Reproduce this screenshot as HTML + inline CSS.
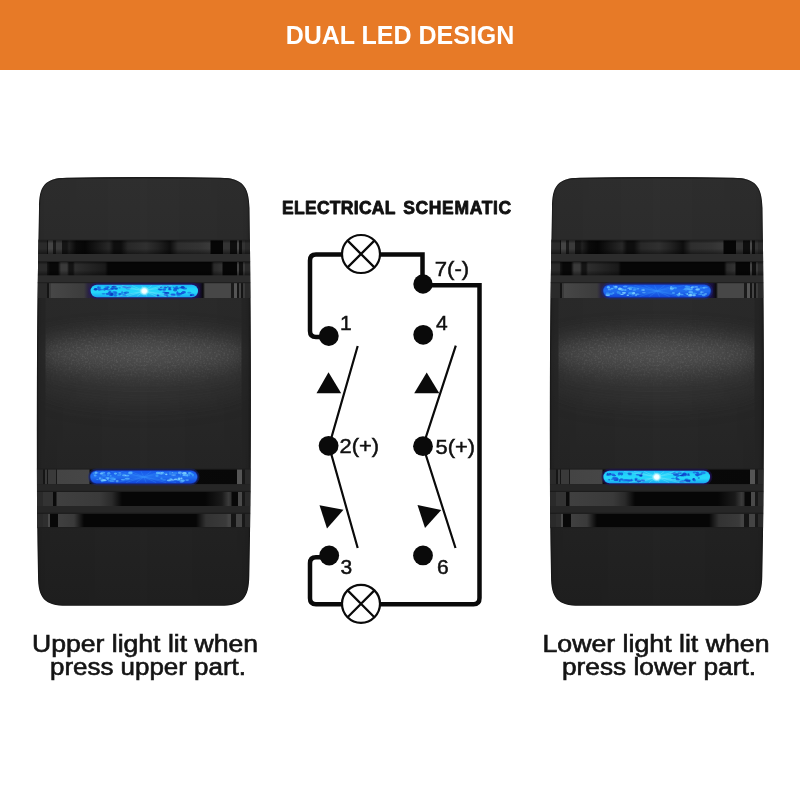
<!DOCTYPE html>
<html><head><meta charset="utf-8">
<style>
html,body{margin:0;padding:0;background:#fff;width:800px;height:800px;overflow:hidden}
svg{display:block;will-change:transform}
text{font-family:"Liberation Sans",sans-serif}
</style></head>
<body>
<svg width="800" height="800" viewBox="0 0 800 800">
<defs>
<linearGradient id="slotA" x1="0" y1="0" x2="214" y2="0" gradientUnits="userSpaceOnUse"><stop offset="0.0164" stop-color="#2a2a2a"/><stop offset="0.0467" stop-color="#2a2a2a"/><stop offset="0.0491" stop-color="#121212"/><stop offset="0.0537" stop-color="#121212"/><stop offset="0.0561" stop-color="#444"/><stop offset="0.0748" stop-color="#444"/><stop offset="0.0771" stop-color="#1a1a1a"/><stop offset="0.0888" stop-color="#1a1a1a"/><stop offset="0.0911" stop-color="#3a3a3a"/><stop offset="0.1168" stop-color="#3a3a3a"/><stop offset="0.1192" stop-color="#141414"/><stop offset="0.1425" stop-color="#141414"/><stop offset="0.1519" stop-color="#222"/><stop offset="0.1846" stop-color="#0a0a0a"/><stop offset="0.2266" stop-color="#060606"/><stop offset="0.3388" stop-color="#282828"/><stop offset="0.3621" stop-color="#0e0e0e"/><stop offset="0.3949" stop-color="#0e0e0e"/><stop offset="0.4276" stop-color="#282828"/><stop offset="0.5117" stop-color="#303030"/><stop offset="0.5678" stop-color="#222"/><stop offset="0.6238" stop-color="#0e0e0e"/><stop offset="0.6612" stop-color="#2e2e2e"/><stop offset="0.7593" stop-color="#333"/><stop offset="0.8107" stop-color="#3a3a3a"/><stop offset="0.8154" stop-color="#060606"/><stop offset="0.8692" stop-color="#060606"/><stop offset="0.8715" stop-color="#333"/><stop offset="0.9019" stop-color="#333"/><stop offset="0.9042" stop-color="#0e0e0e"/><stop offset="0.9346" stop-color="#0e0e0e"/><stop offset="0.9369" stop-color="#4a4a4a"/><stop offset="0.9463" stop-color="#4a4a4a"/><stop offset="0.9486" stop-color="#101010"/><stop offset="0.9603" stop-color="#101010"/><stop offset="0.9626" stop-color="#333"/><stop offset="0.9743" stop-color="#333"/><stop offset="0.9766" stop-color="#2a2a2a"/><stop offset="0.9977" stop-color="#2a2a2a"/></linearGradient><linearGradient id="slotB" x1="0" y1="0" x2="214" y2="0" gradientUnits="userSpaceOnUse"><stop offset="0.0164" stop-color="#2a2a2a"/><stop offset="0.0467" stop-color="#2a2a2a"/><stop offset="0.0491" stop-color="#181818"/><stop offset="0.0631" stop-color="#080808"/><stop offset="0.1005" stop-color="#080808"/><stop offset="0.1145" stop-color="#3a3a3a"/><stop offset="0.1425" stop-color="#3a3a3a"/><stop offset="0.1519" stop-color="#141414"/><stop offset="0.1706" stop-color="#141414"/><stop offset="0.1799" stop-color="#2e2e2e"/><stop offset="0.3201" stop-color="#1a1a1a"/><stop offset="0.3341" stop-color="#060606"/><stop offset="0.8154" stop-color="#060606"/><stop offset="0.8294" stop-color="#2a2a2a"/><stop offset="0.8668" stop-color="#333"/><stop offset="0.8715" stop-color="#060606"/><stop offset="0.9346" stop-color="#060606"/><stop offset="0.9369" stop-color="#444"/><stop offset="0.9463" stop-color="#444"/><stop offset="0.9486" stop-color="#101010"/><stop offset="0.9626" stop-color="#101010"/><stop offset="0.9650" stop-color="#3a3a3a"/><stop offset="0.9743" stop-color="#3a3a3a"/><stop offset="0.9766" stop-color="#2a2a2a"/><stop offset="0.9977" stop-color="#2a2a2a"/></linearGradient><linearGradient id="slotC" x1="0" y1="0" x2="214" y2="0" gradientUnits="userSpaceOnUse"><stop offset="0.0164" stop-color="#2a2a2a"/><stop offset="0.0467" stop-color="#2a2a2a"/><stop offset="0.0491" stop-color="#141414"/><stop offset="0.0561" stop-color="#141414"/><stop offset="0.0584" stop-color="#3a3a3a"/><stop offset="0.0654" stop-color="#3a3a3a"/><stop offset="0.0678" stop-color="#474747"/><stop offset="0.2220" stop-color="#3c3c3c"/><stop offset="0.2407" stop-color="#2a2440"/><stop offset="0.7593" stop-color="#1a1040"/><stop offset="0.7780" stop-color="#0a0a0a"/><stop offset="0.7874" stop-color="#474747"/><stop offset="0.9065" stop-color="#474747"/><stop offset="0.9089" stop-color="#1a1a1a"/><stop offset="0.9206" stop-color="#1a1a1a"/><stop offset="0.9229" stop-color="#555"/><stop offset="0.9346" stop-color="#555"/><stop offset="0.9369" stop-color="#151515"/><stop offset="0.9439" stop-color="#151515"/><stop offset="0.9463" stop-color="#444"/><stop offset="0.9556" stop-color="#444"/><stop offset="0.9579" stop-color="#141414"/><stop offset="0.9650" stop-color="#141414"/><stop offset="0.9673" stop-color="#3a3a3a"/><stop offset="0.9743" stop-color="#3a3a3a"/><stop offset="0.9766" stop-color="#2a2a2a"/><stop offset="0.9977" stop-color="#2a2a2a"/></linearGradient><linearGradient id="slotC2" x1="0" y1="0" x2="214" y2="0" gradientUnits="userSpaceOnUse"><stop offset="0.0164" stop-color="#2a2a2a"/><stop offset="0.0304" stop-color="#2a2a2a"/><stop offset="0.0327" stop-color="#151515"/><stop offset="0.0388" stop-color="#151515"/><stop offset="0.0397" stop-color="#3a3a3a"/><stop offset="0.0467" stop-color="#3a3a3a"/><stop offset="0.0491" stop-color="#151515"/><stop offset="0.0537" stop-color="#151515"/><stop offset="0.0561" stop-color="#3a3a3a"/><stop offset="0.0888" stop-color="#3a3a3a"/><stop offset="0.0911" stop-color="#181818"/><stop offset="0.0958" stop-color="#181818"/><stop offset="0.0981" stop-color="#444"/><stop offset="0.2453" stop-color="#464646"/><stop offset="0.2500" stop-color="#0a0a0a"/><stop offset="0.9346" stop-color="#080808"/><stop offset="0.9369" stop-color="#555"/><stop offset="0.9603" stop-color="#555"/><stop offset="0.9626" stop-color="#181818"/><stop offset="0.9743" stop-color="#181818"/><stop offset="0.9766" stop-color="#2a2a2a"/><stop offset="0.9977" stop-color="#2a2a2a"/></linearGradient><linearGradient id="slotB2" x1="0" y1="0" x2="214" y2="0" gradientUnits="userSpaceOnUse"><stop offset="0.0164" stop-color="#2a2a2a"/><stop offset="0.0304" stop-color="#2a2a2a"/><stop offset="0.0327" stop-color="#333"/><stop offset="0.0748" stop-color="#333"/><stop offset="0.0771" stop-color="#0a0a0a"/><stop offset="0.0911" stop-color="#0a0a0a"/><stop offset="0.0958" stop-color="#404040"/><stop offset="0.2967" stop-color="#3a3a3a"/><stop offset="0.3528" stop-color="#2a2a2a"/><stop offset="0.3995" stop-color="#060606"/><stop offset="0.7874" stop-color="#060606"/><stop offset="0.8668" stop-color="#1a1a1a"/><stop offset="0.8972" stop-color="#3a3a3a"/><stop offset="0.9089" stop-color="#303030"/><stop offset="0.9136" stop-color="#080808"/><stop offset="0.9393" stop-color="#080808"/><stop offset="0.9416" stop-color="#4a4a4a"/><stop offset="0.9603" stop-color="#4a4a4a"/><stop offset="0.9626" stop-color="#181818"/><stop offset="0.9743" stop-color="#181818"/><stop offset="0.9766" stop-color="#2a2a2a"/><stop offset="0.9977" stop-color="#2a2a2a"/></linearGradient><linearGradient id="slotA2" x1="0" y1="0" x2="214" y2="0" gradientUnits="userSpaceOnUse"><stop offset="0.0164" stop-color="#2a2a2a"/><stop offset="0.0304" stop-color="#2a2a2a"/><stop offset="0.0327" stop-color="#2e2e2e"/><stop offset="0.0514" stop-color="#2e2e2e"/><stop offset="0.0537" stop-color="#4a4a4a"/><stop offset="0.0631" stop-color="#4a4a4a"/><stop offset="0.0654" stop-color="#080808"/><stop offset="0.0981" stop-color="#080808"/><stop offset="0.1028" stop-color="#404040"/><stop offset="0.1752" stop-color="#3a3a3a"/><stop offset="0.2220" stop-color="#060606"/><stop offset="0.7453" stop-color="#060606"/><stop offset="0.7921" stop-color="#333"/><stop offset="0.8855" stop-color="#3a3a3a"/><stop offset="0.8972" stop-color="#444"/><stop offset="0.9089" stop-color="#444"/><stop offset="0.9112" stop-color="#151515"/><stop offset="0.9322" stop-color="#151515"/><stop offset="0.9346" stop-color="#444"/><stop offset="0.9603" stop-color="#444"/><stop offset="0.9626" stop-color="#181818"/><stop offset="0.9743" stop-color="#181818"/><stop offset="0.9766" stop-color="#2a2a2a"/><stop offset="0.9977" stop-color="#2a2a2a"/></linearGradient>
  <linearGradient id="bodyV" x1="0" y1="0" x2="0" y2="1">
    <stop offset="0" stop-color="#2d2d2d"/>
    <stop offset="1" stop-color="#262626"/>
  </linearGradient>
  <linearGradient id="edgeH" x1="0" y1="0" x2="1" y2="0">
    <stop offset="0" stop-color="#000" stop-opacity="0.30"/>
    <stop offset="0.06" stop-color="#000" stop-opacity="0.08"/>
    <stop offset="0.5" stop-color="#000" stop-opacity="0"/>
    <stop offset="0.94" stop-color="#000" stop-opacity="0.08"/>
    <stop offset="1" stop-color="#000" stop-opacity="0.30"/>
  </linearGradient>
  <linearGradient id="ledLit" x1="0" y1="0" x2="0" y2="1">
    <stop offset="0" stop-color="#1ab8f6"/>
    <stop offset="0.3" stop-color="#22d2fa"/>
    <stop offset="0.6" stop-color="#26d8fb"/>
    <stop offset="1" stop-color="#18a8f0"/>
  </linearGradient>
  <linearGradient id="ledOff" x1="0" y1="0" x2="0" y2="1">
    <stop offset="0" stop-color="#1656e8"/>
    <stop offset="0.5" stop-color="#2270f2"/>
    <stop offset="1" stop-color="#1246d8"/>
  </linearGradient>
  <radialGradient id="ledDot">
    <stop offset="0" stop-color="#fff"/>
    <stop offset="0.45" stop-color="#f4feff" stop-opacity="0.95"/>
    <stop offset="1" stop-color="#aaf4ff" stop-opacity="0"/>
  </radialGradient>
  <filter id="blur10" x="-50%" y="-100%" width="200%" height="300%"><feGaussianBlur stdDeviation="11"/></filter>
  <filter id="noise" x="0" y="0" width="100%" height="100%">
    <feTurbulence type="fractalNoise" baseFrequency="0.55" numOctaves="2" seed="3" result="t"/>
    <feColorMatrix in="t" type="matrix" values="0 0 0 0 0.6  0 0 0 0 0.6  0 0 0 0 0.6  1.6 0 0 0 -0.75"/>
    <feComposite in2="SourceGraphic" operator="in"/>
  </filter>
  <mask id="hlmask" maskUnits="userSpaceOnUse" x="-20" y="100" width="260" height="220"><ellipse cx="107" cy="176" rx="105" ry="22" fill="#fff" filter="url(#blur10)"/></mask>
  <linearGradient id="slotShade" x1="0" y1="0" x2="0" y2="1">
    <stop offset="0" stop-color="#000" stop-opacity="0.45"/>
    <stop offset="0.2" stop-color="#000" stop-opacity="0"/>
    <stop offset="0.6" stop-color="#000" stop-opacity="0"/>
    <stop offset="1" stop-color="#000" stop-opacity="0.45"/>
  </linearGradient>
  <linearGradient id="bodyV2" x1="0" y1="0" x2="0" y2="1">
    <stop offset="0" stop-color="#2f2f2f"/>
    <stop offset="0.14" stop-color="#2d2d2d"/>
    <stop offset="0.5" stop-color="#2a2a2a"/>
    <stop offset="0.68" stop-color="#262626"/>
    <stop offset="1" stop-color="#202020"/>
  </linearGradient>
  <linearGradient id="sideH" x1="0" y1="0" x2="214" y2="0" gradientUnits="userSpaceOnUse">
    <stop offset="0" stop-color="#000" stop-opacity="0.28"/>
    <stop offset="0.015" stop-color="#000" stop-opacity="0.10"/>
    <stop offset="0.04" stop-color="#000" stop-opacity="0.06"/>
    <stop offset="0.5" stop-color="#000" stop-opacity="0"/>
    <stop offset="0.96" stop-color="#000" stop-opacity="0.06"/>
    <stop offset="0.985" stop-color="#000" stop-opacity="0.10"/>
    <stop offset="1" stop-color="#000" stop-opacity="0.28"/>
  </linearGradient>
  <clipPath id="swclip"><path d="M2.5 30 C2.5 8 8 0 30 -0.3 Q107 -1.5 184 -0.3 C206 0 212.5 8 213 30 Q216 240 212.8 398 C212.5 420 206 427.8 184 427.8 L30 427.8 C8 427.8 1.5 420 1.5 398 Q-1.5 240 2.5 30 Z"/></clipPath>
  <clipPath id="midclip"><rect x="0" y="120" width="214" height="171"/></clipPath>
  <g id="sw" clip-path="url(#swclip)">
    <path d="M2.5 30 C2.5 8 8 0 30 -0.3 Q107 -1.5 184 -0.3 C206 0 212.5 8 213 30 Q216 240 212.8 398 C212.5 420 206 427.8 184 427.8 L30 427.8 C8 427.8 1.5 420 1.5 398 Q-1.5 240 2.5 30 Z" fill="url(#bodyV2)"/>
    <g clip-path="url(#midclip)">
      <ellipse cx="107" cy="200" rx="112" ry="26" fill="#3a3a3a" filter="url(#blur10)" opacity="0.6"/>
      <ellipse cx="107" cy="175" rx="112" ry="18" fill="#555" filter="url(#blur10)" opacity="0.9"/>
      <rect x="0" y="120" width="214" height="171" fill="#fff" filter="url(#noise)" mask="url(#hlmask)" opacity="0.25"/>
      <rect x="0" y="120" width="9" height="171" fill="#262626" opacity="0.8"/>
      <rect x="205" y="120" width="9" height="171" fill="#262626" opacity="0.8"/>
    </g>
    <rect x="-5" y="-5" width="224" height="440" fill="url(#sideH)"/>
    <path d="M2.5 30 C2.5 8 8 0 30 -0.3 Q107 -1.5 184 -0.3 C206 0 212.5 8 213 30 Q216 240 212.8 398 C212.5 420 206 427.8 184 427.8 L30 427.8 C8 427.8 1.5 420 1.5 398 Q-1.5 240 2.5 30 Z" fill="none" stroke="#151515" stroke-width="2" opacity="0.6"/>
    <path d="M0 0.8 Q107 -1.2 214 0.8" stroke="#1c1c1c" stroke-width="1.4" fill="none"/>
    <!-- upper slots -->
    <rect x="0" y="61.5" width="214" height="1.2" fill="#222"/>
    <rect x="0" y="62.5" width="214" height="13.5" fill="url(#slotA)"/>
    <rect x="0" y="84" width="214" height="13.5" fill="url(#slotB)"/>
    <rect x="0" y="105" width="214" height="15" fill="url(#slotC)"/>
    <rect x="0" y="62.5" width="214" height="13.5" fill="url(#slotShade)"/>
    <rect x="0" y="84" width="214" height="13.5" fill="url(#slotShade)"/>
    <rect x="0" y="313.7" width="214" height="14.3" fill="url(#slotShade)"/>
    <rect x="0" y="335.5" width="214" height="13.5" fill="url(#slotShade)"/>
    <rect x="0" y="76" width="214" height="8" fill="#2c2c2c"/>
    <rect x="0" y="97.5" width="214" height="7.5" fill="#2c2c2c"/>
    <rect x="0" y="83" width="214" height="1" fill="#1e1e1e"/>
    <rect x="0" y="104.2" width="214" height="1" fill="#1e1e1e"/>
    <!-- lower slots -->
    <rect x="0" y="291.2" width="214" height="15" fill="url(#slotC2)"/>
    <rect x="0" y="313.7" width="214" height="14.3" fill="url(#slotB2)"/>
    <rect x="0" y="335.5" width="214" height="13.5" fill="url(#slotA2)"/>
    <rect x="0" y="290.5" width="214" height="1" fill="#1e1e1e"/>
    <rect x="0" y="306.2" width="214" height="7.5" fill="#262626"/>
    <rect x="0" y="328" width="214" height="7.5" fill="#262626"/>
    <rect x="0" y="312.9" width="214" height="1" fill="#1c1c1c"/>
    <rect x="0" y="334.7" width="214" height="1" fill="#1c1c1c"/>
    <rect x="0" y="349" width="214" height="1.2" fill="#1e1e1e"/>
  </g>
</defs>

<rect x="0" y="0" width="800" height="70" fill="#E77A27"/>
<text x="400" y="43.5" text-anchor="middle" font-size="25" font-weight="bold" fill="#fff">DUAL LED DESIGN</text>

<!-- left switch -->
<g transform="translate(36.5,178)"><use href="#sw"/></g>
<clipPath id="pc1"><rect x="90.6" y="284.8" width="107.4" height="12.4" rx="6.2"/></clipPath>
<rect x="88.3" y="282.5" width="112" height="17" rx="8.5" fill="#24166a" opacity="0.45"/>
<rect x="89.8" y="284" width="109" height="14" rx="7.0" fill="#24166a"/>
<rect x="90.6" y="284.8" width="107.4" height="12.4" rx="6.2" fill="url(#ledLit)"/>
<g clip-path="url(#pc1)"><ellipse cx="106.6" cy="287.0" rx="2.3" ry="0.7" fill="#1a60e0" opacity="0.53"/>
<ellipse cx="113.3" cy="286.6" rx="1.3" ry="1.0" fill="#1450d8" opacity="0.87"/>
<ellipse cx="99.3" cy="287.3" rx="1.9" ry="0.9" fill="#1450d8" opacity="0.52"/>
<ellipse cx="126.1" cy="287.5" rx="1.9" ry="1.0" fill="#1a60e0" opacity="0.58"/>
<ellipse cx="116.0" cy="288.7" rx="1.9" ry="1.1" fill="#0a38c0" opacity="0.81"/>
<ellipse cx="110.4" cy="294.0" rx="1.5" ry="0.8" fill="#1450d8" opacity="0.81"/>
<ellipse cx="103.7" cy="293.8" rx="2.1" ry="0.8" fill="#1450d8" opacity="0.55"/>
<ellipse cx="110.0" cy="292.5" rx="1.6" ry="1.4" fill="#1450d8" opacity="0.84"/>
<ellipse cx="115.7" cy="293.1" rx="1.9" ry="1.1" fill="#0a38c0" opacity="0.53"/>
<ellipse cx="98.2" cy="287.4" rx="1.0" ry="1.2" fill="#1a60e0" opacity="0.76"/>
<ellipse cx="119.6" cy="294.5" rx="0.9" ry="1.0" fill="#1450d8" opacity="0.77"/>
<ellipse cx="112.8" cy="287.3" rx="1.6" ry="1.3" fill="#0a38c0" opacity="0.54"/>
<ellipse cx="111.2" cy="295.1" rx="2.4" ry="0.8" fill="#0a38c0" opacity="0.94"/>
<ellipse cx="119.7" cy="287.8" rx="1.2" ry="0.8" fill="#1450d8" opacity="0.51"/>
<ellipse cx="125.1" cy="287.1" rx="1.6" ry="0.9" fill="#1a60e0" opacity="0.64"/>
<ellipse cx="99.4" cy="289.5" rx="1.7" ry="1.3" fill="#1a60e0" opacity="0.86"/>
<ellipse cx="109.1" cy="292.4" rx="1.0" ry="0.7" fill="#1450d8" opacity="0.70"/>
<ellipse cx="98.8" cy="288.6" rx="1.8" ry="1.4" fill="#1a60e0" opacity="0.51"/>
<ellipse cx="126.6" cy="292.5" rx="2.5" ry="1.1" fill="#0a38c0" opacity="0.56"/>
<ellipse cx="125.7" cy="293.6" rx="1.4" ry="0.7" fill="#1a60e0" opacity="0.65"/>
<ellipse cx="104.4" cy="289.4" rx="1.2" ry="1.4" fill="#0a38c0" opacity="0.57"/>
<ellipse cx="114.6" cy="286.6" rx="2.1" ry="0.8" fill="#0a38c0" opacity="0.91"/>
<ellipse cx="107.8" cy="293.9" rx="2.0" ry="1.1" fill="#1450d8" opacity="0.86"/>
<ellipse cx="124.6" cy="292.8" rx="1.5" ry="0.6" fill="#1450d8" opacity="0.86"/>
<ellipse cx="112.0" cy="294.1" rx="1.7" ry="1.3" fill="#0a38c0" opacity="0.93"/>
<ellipse cx="108.1" cy="287.3" rx="1.5" ry="1.0" fill="#1a60e0" opacity="0.88"/>
<ellipse cx="112.3" cy="288.8" rx="2.3" ry="0.7" fill="#0a38c0" opacity="0.85"/>
<ellipse cx="122.1" cy="292.6" rx="1.0" ry="1.4" fill="#1a60e0" opacity="0.68"/>
<ellipse cx="109.4" cy="289.8" rx="2.6" ry="0.6" fill="#1a60e0" opacity="0.91"/>
<ellipse cx="124.2" cy="294.9" rx="2.0" ry="0.9" fill="#1a60e0" opacity="0.75"/>
<ellipse cx="95.6" cy="289.3" rx="1.8" ry="1.3" fill="#0a38c0" opacity="0.94"/>
<ellipse cx="101.9" cy="289.6" rx="1.4" ry="0.8" fill="#1a60e0" opacity="0.65"/>
<ellipse cx="114.6" cy="292.2" rx="2.4" ry="1.1" fill="#1a60e0" opacity="0.69"/>
<ellipse cx="128.2" cy="288.3" rx="2.4" ry="1.2" fill="#1a60e0" opacity="0.50"/>
<ellipse cx="123.9" cy="287.1" rx="1.8" ry="0.9" fill="#1a60e0" opacity="0.74"/>
<ellipse cx="112.4" cy="289.2" rx="1.3" ry="0.8" fill="#1450d8" opacity="0.73"/>
<ellipse cx="115.3" cy="295.2" rx="1.5" ry="1.4" fill="#1a60e0" opacity="0.73"/>
<ellipse cx="120.0" cy="293.9" rx="1.8" ry="0.8" fill="#1a60e0" opacity="0.89"/>
<ellipse cx="129.1" cy="287.4" rx="2.3" ry="0.7" fill="#1450d8" opacity="0.68"/>
<ellipse cx="106.3" cy="288.8" rx="2.0" ry="1.2" fill="#1450d8" opacity="0.92"/>
<ellipse cx="180.8" cy="287.8" rx="2.5" ry="0.8" fill="#1450d8" opacity="0.68"/>
<ellipse cx="175.1" cy="290.0" rx="2.1" ry="1.4" fill="#0a38c0" opacity="0.65"/>
<ellipse cx="164.5" cy="287.6" rx="1.5" ry="1.0" fill="#1a60e0" opacity="0.51"/>
<ellipse cx="169.5" cy="288.7" rx="1.1" ry="1.3" fill="#1450d8" opacity="0.94"/>
<ellipse cx="161.2" cy="287.4" rx="1.4" ry="0.7" fill="#0a38c0" opacity="0.88"/>
<ellipse cx="182.0" cy="293.4" rx="2.1" ry="0.7" fill="#1450d8" opacity="0.86"/>
<ellipse cx="164.1" cy="289.6" rx="2.0" ry="1.2" fill="#1450d8" opacity="0.77"/>
<ellipse cx="165.5" cy="287.4" rx="1.5" ry="1.0" fill="#0a38c0" opacity="0.78"/>
<ellipse cx="159.0" cy="289.0" rx="1.3" ry="0.7" fill="#0a38c0" opacity="0.78"/>
<ellipse cx="176.7" cy="287.2" rx="1.4" ry="1.2" fill="#0a38c0" opacity="0.52"/>
<ellipse cx="158.1" cy="295.4" rx="1.3" ry="1.0" fill="#1a60e0" opacity="0.87"/>
<ellipse cx="173.1" cy="294.9" rx="2.5" ry="0.8" fill="#1450d8" opacity="0.94"/>
<ellipse cx="169.9" cy="289.4" rx="1.6" ry="0.9" fill="#1450d8" opacity="0.88"/>
<ellipse cx="157.9" cy="295.1" rx="1.2" ry="0.7" fill="#0a38c0" opacity="0.89"/>
<ellipse cx="181.8" cy="292.8" rx="1.0" ry="0.7" fill="#0a38c0" opacity="0.70"/>
<ellipse cx="167.0" cy="295.4" rx="1.3" ry="1.4" fill="#0a38c0" opacity="0.60"/>
<ellipse cx="164.0" cy="292.3" rx="1.8" ry="0.8" fill="#1a60e0" opacity="0.85"/>
<ellipse cx="160.7" cy="289.4" rx="1.6" ry="0.8" fill="#1a60e0" opacity="0.60"/>
<ellipse cx="178.7" cy="294.6" rx="2.2" ry="1.2" fill="#0a38c0" opacity="0.57"/>
<ellipse cx="183.8" cy="292.2" rx="2.1" ry="1.2" fill="#1450d8" opacity="0.91"/>
<ellipse cx="184.8" cy="288.5" rx="2.3" ry="1.1" fill="#1a60e0" opacity="0.81"/>
<ellipse cx="182.6" cy="287.3" rx="2.0" ry="1.4" fill="#0a38c0" opacity="0.88"/>
<ellipse cx="177.7" cy="288.7" rx="1.7" ry="0.6" fill="#1450d8" opacity="0.84"/>
<ellipse cx="175.7" cy="288.4" rx="2.2" ry="1.0" fill="#1450d8" opacity="0.88"/>
<ellipse cx="165.9" cy="292.8" rx="1.7" ry="0.9" fill="#0a38c0" opacity="0.91"/>
<ellipse cx="167.8" cy="286.7" rx="1.0" ry="0.7" fill="#0a38c0" opacity="0.79"/>
<ellipse cx="182.6" cy="292.5" rx="1.0" ry="0.8" fill="#1a60e0" opacity="0.54"/>
<ellipse cx="165.3" cy="294.5" rx="1.7" ry="1.0" fill="#1450d8" opacity="0.95"/>
<ellipse cx="177.4" cy="292.3" rx="0.9" ry="1.0" fill="#1a60e0" opacity="0.94"/>
<ellipse cx="173.7" cy="287.4" rx="1.0" ry="0.7" fill="#1a60e0" opacity="0.74"/>
<ellipse cx="192.1" cy="294.9" rx="2.4" ry="1.2" fill="#1450d8" opacity="0.72"/>
<ellipse cx="189.3" cy="292.6" rx="2.1" ry="0.9" fill="#1a60e0" opacity="0.56"/>
<ellipse cx="169.9" cy="287.6" rx="1.5" ry="0.9" fill="#0a38c0" opacity="0.55"/>
<ellipse cx="191.1" cy="295.2" rx="1.3" ry="0.7" fill="#0a38c0" opacity="0.95"/>
<ellipse cx="178.8" cy="293.5" rx="2.4" ry="0.8" fill="#1450d8" opacity="0.88"/>
<ellipse cx="167.8" cy="292.9" rx="1.6" ry="0.9" fill="#0a38c0" opacity="0.85"/>
<ellipse cx="173.0" cy="294.7" rx="2.5" ry="1.4" fill="#1a60e0" opacity="0.59"/>
<ellipse cx="160.3" cy="289.8" rx="2.0" ry="0.8" fill="#1450d8" opacity="0.91"/>
<ellipse cx="177.4" cy="293.5" rx="1.4" ry="1.2" fill="#1a60e0" opacity="0.62"/>
<ellipse cx="181.3" cy="294.0" rx="1.1" ry="1.1" fill="#1450d8" opacity="0.59"/>
<line x1="144.3" y1="291.0" x2="111.8" y2="285.5" stroke="#9aeeff" stroke-width="0.6" opacity="0.5"/>
<line x1="144.3" y1="291.0" x2="116.8" y2="296.5" stroke="#9aeeff" stroke-width="0.6" opacity="0.5"/>
<line x1="144.3" y1="291.0" x2="121.8" y2="285.5" stroke="#9aeeff" stroke-width="0.6" opacity="0.5"/>
<line x1="144.3" y1="291.0" x2="126.8" y2="296.5" stroke="#9aeeff" stroke-width="0.6" opacity="0.5"/>
<line x1="144.3" y1="291.0" x2="131.8" y2="285.5" stroke="#9aeeff" stroke-width="0.6" opacity="0.5"/>
<line x1="144.3" y1="291.0" x2="136.8" y2="296.5" stroke="#9aeeff" stroke-width="0.6" opacity="0.5"/>
<line x1="144.3" y1="291.0" x2="141.8" y2="285.5" stroke="#9aeeff" stroke-width="0.6" opacity="0.5"/>
<line x1="144.3" y1="291.0" x2="146.8" y2="296.5" stroke="#9aeeff" stroke-width="0.6" opacity="0.5"/>
<line x1="144.3" y1="291.0" x2="151.8" y2="285.5" stroke="#9aeeff" stroke-width="0.6" opacity="0.5"/>
<line x1="144.3" y1="291.0" x2="156.8" y2="296.5" stroke="#9aeeff" stroke-width="0.6" opacity="0.5"/>
<line x1="144.3" y1="291.0" x2="161.8" y2="285.5" stroke="#9aeeff" stroke-width="0.6" opacity="0.5"/>
<line x1="144.3" y1="291.0" x2="166.8" y2="296.5" stroke="#9aeeff" stroke-width="0.6" opacity="0.5"/>
<line x1="144.3" y1="291.0" x2="171.8" y2="285.5" stroke="#9aeeff" stroke-width="0.6" opacity="0.5"/>
<line x1="144.3" y1="291.0" x2="176.8" y2="296.5" stroke="#9aeeff" stroke-width="0.6" opacity="0.5"/></g><circle cx="144.3" cy="291.0" r="5" fill="url(#ledDot)"/>
<clipPath id="pc2"><rect x="90.3" y="470.8" width="106.9" height="12.4" rx="6.2"/></clipPath>
<rect x="88.0" y="468.5" width="111.5" height="17" rx="8.5" fill="#182a8a" opacity="0.45"/>
<rect x="89.5" y="470" width="108.5" height="14" rx="7.0" fill="#182a8a"/>
<rect x="90.3" y="470.8" width="106.9" height="12.4" rx="6.2" fill="url(#ledOff)"/>
<g clip-path="url(#pc2)"><ellipse cx="127.3" cy="478.8" rx="2.6" ry="1.0" fill="#5ab8ff" opacity="0.75"/>
<ellipse cx="103.3" cy="479.9" rx="1.3" ry="0.8" fill="#7fd0ff" opacity="0.59"/>
<ellipse cx="95.2" cy="475.5" rx="1.5" ry="0.9" fill="#5ab8ff" opacity="0.72"/>
<ellipse cx="115.3" cy="473.8" rx="1.1" ry="1.3" fill="#3a9af8" opacity="0.68"/>
<ellipse cx="110.7" cy="475.8" rx="1.1" ry="0.9" fill="#3a9af8" opacity="0.94"/>
<ellipse cx="112.2" cy="481.3" rx="2.6" ry="0.8" fill="#5ab8ff" opacity="0.60"/>
<ellipse cx="100.0" cy="478.4" rx="1.0" ry="1.2" fill="#5ab8ff" opacity="0.85"/>
<ellipse cx="102.9" cy="480.3" rx="2.5" ry="1.1" fill="#7fd0ff" opacity="0.79"/>
<ellipse cx="119.8" cy="472.9" rx="1.6" ry="0.8" fill="#7fd0ff" opacity="0.50"/>
<ellipse cx="114.0" cy="479.0" rx="2.0" ry="1.3" fill="#3a9af8" opacity="0.74"/>
<ellipse cx="114.3" cy="479.4" rx="1.0" ry="0.8" fill="#7fd0ff" opacity="0.79"/>
<ellipse cx="97.4" cy="479.5" rx="1.3" ry="0.6" fill="#3a9af8" opacity="0.82"/>
<ellipse cx="107.6" cy="478.0" rx="2.2" ry="1.0" fill="#5ab8ff" opacity="0.72"/>
<ellipse cx="101.8" cy="478.7" rx="1.3" ry="1.2" fill="#3a9af8" opacity="0.55"/>
<ellipse cx="117.1" cy="481.1" rx="1.6" ry="1.1" fill="#7fd0ff" opacity="0.57"/>
<ellipse cx="108.8" cy="473.2" rx="1.6" ry="1.2" fill="#5ab8ff" opacity="0.68"/>
<ellipse cx="127.0" cy="475.6" rx="2.5" ry="0.9" fill="#5ab8ff" opacity="0.79"/>
<ellipse cx="113.5" cy="479.1" rx="2.3" ry="1.4" fill="#3a9af8" opacity="0.58"/>
<ellipse cx="94.6" cy="473.5" rx="1.9" ry="1.2" fill="#3a9af8" opacity="0.66"/>
<ellipse cx="124.3" cy="475.4" rx="2.1" ry="0.8" fill="#7fd0ff" opacity="0.91"/>
<ellipse cx="101.5" cy="473.8" rx="2.0" ry="0.8" fill="#7fd0ff" opacity="0.85"/>
<ellipse cx="96.0" cy="472.6" rx="1.3" ry="1.2" fill="#7fd0ff" opacity="0.65"/>
<ellipse cx="104.4" cy="480.2" rx="2.2" ry="1.2" fill="#3a9af8" opacity="0.63"/>
<ellipse cx="120.6" cy="474.6" rx="0.9" ry="0.8" fill="#3a9af8" opacity="0.82"/>
<ellipse cx="111.4" cy="480.8" rx="2.3" ry="0.7" fill="#3a9af8" opacity="0.58"/>
<ellipse cx="123.6" cy="475.1" rx="1.9" ry="0.9" fill="#3a9af8" opacity="0.71"/>
<ellipse cx="122.9" cy="479.8" rx="2.2" ry="0.8" fill="#5ab8ff" opacity="0.79"/>
<ellipse cx="112.0" cy="478.6" rx="2.4" ry="1.4" fill="#3a9af8" opacity="0.78"/>
<ellipse cx="102.0" cy="481.5" rx="1.2" ry="0.7" fill="#3a9af8" opacity="0.78"/>
<ellipse cx="118.9" cy="475.1" rx="2.2" ry="0.8" fill="#3a9af8" opacity="0.76"/>
<ellipse cx="108.0" cy="475.1" rx="1.2" ry="0.8" fill="#3a9af8" opacity="0.90"/>
<ellipse cx="115.5" cy="473.6" rx="1.8" ry="0.8" fill="#5ab8ff" opacity="0.79"/>
<ellipse cx="130.4" cy="472.9" rx="2.3" ry="1.3" fill="#5ab8ff" opacity="0.89"/>
<ellipse cx="102.9" cy="472.7" rx="2.5" ry="0.9" fill="#5ab8ff" opacity="0.70"/>
<ellipse cx="103.9" cy="475.2" rx="2.0" ry="1.2" fill="#3a9af8" opacity="0.60"/>
<ellipse cx="107.9" cy="478.7" rx="1.0" ry="1.2" fill="#5ab8ff" opacity="0.87"/>
<ellipse cx="124.2" cy="479.3" rx="1.0" ry="0.6" fill="#3a9af8" opacity="0.75"/>
<ellipse cx="96.8" cy="472.9" rx="2.0" ry="0.7" fill="#5ab8ff" opacity="0.68"/>
<ellipse cx="104.3" cy="480.3" rx="2.5" ry="0.8" fill="#7fd0ff" opacity="0.90"/>
<ellipse cx="109.5" cy="480.7" rx="2.0" ry="0.9" fill="#3a9af8" opacity="0.59"/>
<ellipse cx="157.0" cy="475.7" rx="1.6" ry="1.3" fill="#3a9af8" opacity="0.85"/>
<ellipse cx="161.5" cy="478.5" rx="1.1" ry="1.1" fill="#3a9af8" opacity="0.83"/>
<ellipse cx="163.0" cy="473.7" rx="2.5" ry="0.7" fill="#3a9af8" opacity="0.84"/>
<ellipse cx="185.5" cy="475.3" rx="2.6" ry="1.0" fill="#5ab8ff" opacity="0.77"/>
<ellipse cx="179.8" cy="472.8" rx="2.0" ry="1.3" fill="#7fd0ff" opacity="0.68"/>
<ellipse cx="187.4" cy="475.4" rx="1.0" ry="1.4" fill="#5ab8ff" opacity="0.67"/>
<ellipse cx="161.2" cy="473.4" rx="1.0" ry="1.0" fill="#7fd0ff" opacity="0.52"/>
<ellipse cx="187.1" cy="480.1" rx="2.0" ry="0.8" fill="#5ab8ff" opacity="0.69"/>
<ellipse cx="180.6" cy="474.1" rx="0.9" ry="1.4" fill="#3a9af8" opacity="0.61"/>
<ellipse cx="184.4" cy="475.2" rx="2.3" ry="0.9" fill="#5ab8ff" opacity="0.56"/>
<ellipse cx="172.4" cy="472.8" rx="1.0" ry="0.7" fill="#7fd0ff" opacity="0.64"/>
<ellipse cx="182.9" cy="480.6" rx="2.0" ry="1.2" fill="#5ab8ff" opacity="0.89"/>
<ellipse cx="192.9" cy="475.1" rx="1.1" ry="1.3" fill="#3a9af8" opacity="0.93"/>
<ellipse cx="190.0" cy="473.1" rx="1.0" ry="0.9" fill="#3a9af8" opacity="0.57"/>
<ellipse cx="189.3" cy="473.5" rx="1.3" ry="1.4" fill="#3a9af8" opacity="0.59"/>
<ellipse cx="166.3" cy="474.3" rx="1.2" ry="0.9" fill="#7fd0ff" opacity="0.92"/>
<ellipse cx="181.4" cy="478.6" rx="1.1" ry="1.0" fill="#7fd0ff" opacity="0.89"/>
<ellipse cx="191.8" cy="474.1" rx="1.3" ry="1.0" fill="#3a9af8" opacity="0.83"/>
<ellipse cx="170.2" cy="473.8" rx="1.5" ry="1.2" fill="#3a9af8" opacity="0.60"/>
<ellipse cx="179.1" cy="479.0" rx="1.4" ry="1.4" fill="#7fd0ff" opacity="0.92"/>
<ellipse cx="189.2" cy="475.1" rx="1.2" ry="1.1" fill="#3a9af8" opacity="0.69"/>
<ellipse cx="170.0" cy="472.7" rx="0.9" ry="0.6" fill="#3a9af8" opacity="0.64"/>
<ellipse cx="175.7" cy="479.4" rx="1.9" ry="0.8" fill="#7fd0ff" opacity="0.87"/>
<ellipse cx="162.5" cy="472.5" rx="1.7" ry="0.7" fill="#5ab8ff" opacity="0.89"/>
<ellipse cx="185.1" cy="473.9" rx="1.0" ry="1.3" fill="#3a9af8" opacity="0.77"/>
<ellipse cx="177.7" cy="479.8" rx="1.3" ry="1.3" fill="#5ab8ff" opacity="0.53"/>
<ellipse cx="157.7" cy="473.1" rx="0.9" ry="1.0" fill="#5ab8ff" opacity="0.56"/>
<ellipse cx="164.0" cy="479.8" rx="2.3" ry="0.7" fill="#3a9af8" opacity="0.53"/>
<ellipse cx="179.4" cy="480.5" rx="2.1" ry="0.6" fill="#3a9af8" opacity="0.84"/>
<ellipse cx="173.6" cy="475.1" rx="2.6" ry="0.8" fill="#7fd0ff" opacity="0.52"/>
<ellipse cx="168.9" cy="480.4" rx="2.1" ry="0.8" fill="#7fd0ff" opacity="0.81"/>
<ellipse cx="181.6" cy="481.4" rx="2.0" ry="1.4" fill="#5ab8ff" opacity="0.54"/>
<ellipse cx="175.2" cy="473.1" rx="2.5" ry="1.2" fill="#3a9af8" opacity="0.59"/>
<ellipse cx="170.9" cy="479.3" rx="1.7" ry="1.0" fill="#5ab8ff" opacity="0.89"/>
<ellipse cx="172.6" cy="480.0" rx="2.2" ry="0.9" fill="#7fd0ff" opacity="0.54"/>
<ellipse cx="189.8" cy="473.0" rx="2.0" ry="0.7" fill="#5ab8ff" opacity="0.82"/>
<ellipse cx="157.9" cy="473.0" rx="2.1" ry="1.2" fill="#5ab8ff" opacity="0.89"/>
<ellipse cx="184.4" cy="473.2" rx="2.4" ry="1.2" fill="#7fd0ff" opacity="0.92"/>
<ellipse cx="160.7" cy="473.2" rx="2.5" ry="1.3" fill="#7fd0ff" opacity="0.54"/>
<ellipse cx="184.0" cy="474.7" rx="1.1" ry="1.2" fill="#5ab8ff" opacity="0.63"/>
<line x1="143.8" y1="477.0" x2="111.2" y2="471.5" stroke="#3d9cff" stroke-width="0.6" opacity="0.5"/>
<line x1="143.8" y1="477.0" x2="116.2" y2="482.5" stroke="#3d9cff" stroke-width="0.6" opacity="0.5"/>
<line x1="143.8" y1="477.0" x2="121.2" y2="471.5" stroke="#3d9cff" stroke-width="0.6" opacity="0.5"/>
<line x1="143.8" y1="477.0" x2="126.2" y2="482.5" stroke="#3d9cff" stroke-width="0.6" opacity="0.5"/>
<line x1="143.8" y1="477.0" x2="131.2" y2="471.5" stroke="#3d9cff" stroke-width="0.6" opacity="0.5"/>
<line x1="143.8" y1="477.0" x2="136.2" y2="482.5" stroke="#3d9cff" stroke-width="0.6" opacity="0.5"/>
<line x1="143.8" y1="477.0" x2="141.2" y2="471.5" stroke="#3d9cff" stroke-width="0.6" opacity="0.5"/>
<line x1="143.8" y1="477.0" x2="146.2" y2="482.5" stroke="#3d9cff" stroke-width="0.6" opacity="0.5"/>
<line x1="143.8" y1="477.0" x2="151.2" y2="471.5" stroke="#3d9cff" stroke-width="0.6" opacity="0.5"/>
<line x1="143.8" y1="477.0" x2="156.2" y2="482.5" stroke="#3d9cff" stroke-width="0.6" opacity="0.5"/>
<line x1="143.8" y1="477.0" x2="161.2" y2="471.5" stroke="#3d9cff" stroke-width="0.6" opacity="0.5"/>
<line x1="143.8" y1="477.0" x2="166.2" y2="482.5" stroke="#3d9cff" stroke-width="0.6" opacity="0.5"/>
<line x1="143.8" y1="477.0" x2="171.2" y2="471.5" stroke="#3d9cff" stroke-width="0.6" opacity="0.5"/>
<line x1="143.8" y1="477.0" x2="176.2" y2="482.5" stroke="#3d9cff" stroke-width="0.6" opacity="0.5"/></g>
<!-- right switch -->
<g transform="translate(549.5,178)"><use href="#sw"/></g>
<clipPath id="pc3"><rect x="603.3" y="284.8" width="107.4" height="12.4" rx="6.2"/></clipPath>
<rect x="601.0" y="282.5" width="112" height="17" rx="8.5" fill="#182a8a" opacity="0.45"/>
<rect x="602.5" y="284" width="109" height="14" rx="7.0" fill="#182a8a"/>
<rect x="603.3" y="284.8" width="107.4" height="12.4" rx="6.2" fill="url(#ledOff)"/>
<g clip-path="url(#pc3)"><ellipse cx="619.8" cy="293.2" rx="1.0" ry="1.2" fill="#3a9af8" opacity="0.85"/>
<ellipse cx="629.4" cy="288.2" rx="2.2" ry="0.6" fill="#7fd0ff" opacity="0.85"/>
<ellipse cx="620.1" cy="289.0" rx="2.1" ry="1.3" fill="#7fd0ff" opacity="0.87"/>
<ellipse cx="613.7" cy="286.5" rx="0.9" ry="1.0" fill="#3a9af8" opacity="0.81"/>
<ellipse cx="637.6" cy="294.1" rx="1.9" ry="0.7" fill="#5ab8ff" opacity="0.92"/>
<ellipse cx="615.9" cy="287.1" rx="1.7" ry="1.4" fill="#7fd0ff" opacity="0.85"/>
<ellipse cx="630.4" cy="293.4" rx="2.4" ry="1.2" fill="#3a9af8" opacity="0.90"/>
<ellipse cx="608.4" cy="287.2" rx="1.5" ry="1.3" fill="#5ab8ff" opacity="0.92"/>
<ellipse cx="612.1" cy="288.6" rx="1.5" ry="0.9" fill="#5ab8ff" opacity="0.89"/>
<ellipse cx="623.9" cy="293.1" rx="1.6" ry="1.2" fill="#7fd0ff" opacity="0.60"/>
<ellipse cx="619.7" cy="288.7" rx="1.4" ry="1.2" fill="#7fd0ff" opacity="0.57"/>
<ellipse cx="613.2" cy="293.1" rx="1.2" ry="0.9" fill="#5ab8ff" opacity="0.62"/>
<ellipse cx="642.3" cy="290.0" rx="1.2" ry="0.7" fill="#5ab8ff" opacity="0.86"/>
<ellipse cx="634.2" cy="288.0" rx="1.4" ry="1.3" fill="#3a9af8" opacity="0.52"/>
<ellipse cx="622.0" cy="294.4" rx="1.7" ry="0.7" fill="#7fd0ff" opacity="0.83"/>
<ellipse cx="607.7" cy="295.0" rx="2.3" ry="1.1" fill="#7fd0ff" opacity="0.90"/>
<ellipse cx="635.7" cy="289.0" rx="2.0" ry="1.0" fill="#3a9af8" opacity="0.62"/>
<ellipse cx="633.0" cy="292.8" rx="2.1" ry="1.1" fill="#3a9af8" opacity="0.88"/>
<ellipse cx="625.1" cy="286.6" rx="2.4" ry="0.9" fill="#5ab8ff" opacity="0.67"/>
<ellipse cx="625.3" cy="289.9" rx="1.2" ry="1.2" fill="#5ab8ff" opacity="0.73"/>
<ellipse cx="611.2" cy="293.9" rx="1.8" ry="1.1" fill="#3a9af8" opacity="0.73"/>
<ellipse cx="622.4" cy="289.8" rx="1.6" ry="1.2" fill="#5ab8ff" opacity="0.83"/>
<ellipse cx="629.9" cy="292.9" rx="1.6" ry="0.6" fill="#3a9af8" opacity="0.91"/>
<ellipse cx="630.4" cy="288.9" rx="1.3" ry="1.2" fill="#7fd0ff" opacity="0.94"/>
<ellipse cx="643.7" cy="289.9" rx="1.1" ry="1.2" fill="#7fd0ff" opacity="0.59"/>
<ellipse cx="630.9" cy="289.0" rx="1.5" ry="1.1" fill="#3a9af8" opacity="0.71"/>
<ellipse cx="618.2" cy="292.4" rx="1.5" ry="1.3" fill="#3a9af8" opacity="0.82"/>
<ellipse cx="632.5" cy="294.4" rx="0.9" ry="1.2" fill="#3a9af8" opacity="0.66"/>
<ellipse cx="631.3" cy="287.6" rx="2.0" ry="0.9" fill="#3a9af8" opacity="0.88"/>
<ellipse cx="609.6" cy="289.4" rx="1.8" ry="0.9" fill="#7fd0ff" opacity="0.51"/>
<ellipse cx="607.9" cy="294.3" rx="1.9" ry="1.1" fill="#5ab8ff" opacity="0.58"/>
<ellipse cx="624.0" cy="292.7" rx="2.2" ry="0.7" fill="#7fd0ff" opacity="0.77"/>
<ellipse cx="636.0" cy="295.1" rx="1.2" ry="1.2" fill="#7fd0ff" opacity="0.54"/>
<ellipse cx="638.1" cy="288.8" rx="1.3" ry="0.8" fill="#5ab8ff" opacity="0.71"/>
<ellipse cx="627.8" cy="295.2" rx="1.3" ry="0.7" fill="#7fd0ff" opacity="0.89"/>
<ellipse cx="607.7" cy="293.6" rx="2.0" ry="1.3" fill="#3a9af8" opacity="0.69"/>
<ellipse cx="643.9" cy="292.6" rx="2.0" ry="0.6" fill="#7fd0ff" opacity="0.52"/>
<ellipse cx="634.3" cy="290.0" rx="1.8" ry="1.0" fill="#5ab8ff" opacity="0.52"/>
<ellipse cx="633.7" cy="293.2" rx="1.5" ry="1.2" fill="#7fd0ff" opacity="0.85"/>
<ellipse cx="615.2" cy="288.0" rx="2.3" ry="0.8" fill="#3a9af8" opacity="0.68"/>
<ellipse cx="688.4" cy="287.5" rx="2.0" ry="1.2" fill="#3a9af8" opacity="0.59"/>
<ellipse cx="696.1" cy="286.9" rx="2.2" ry="0.6" fill="#7fd0ff" opacity="0.75"/>
<ellipse cx="684.9" cy="288.5" rx="0.9" ry="0.8" fill="#3a9af8" opacity="0.77"/>
<ellipse cx="694.0" cy="295.2" rx="1.9" ry="1.1" fill="#7fd0ff" opacity="0.81"/>
<ellipse cx="702.0" cy="292.1" rx="2.0" ry="0.7" fill="#7fd0ff" opacity="0.58"/>
<ellipse cx="671.4" cy="289.2" rx="1.5" ry="1.3" fill="#3a9af8" opacity="0.75"/>
<ellipse cx="679.5" cy="293.5" rx="0.9" ry="1.1" fill="#7fd0ff" opacity="0.92"/>
<ellipse cx="672.1" cy="288.5" rx="2.2" ry="0.9" fill="#7fd0ff" opacity="0.91"/>
<ellipse cx="686.3" cy="286.5" rx="1.7" ry="0.9" fill="#5ab8ff" opacity="0.54"/>
<ellipse cx="687.3" cy="294.2" rx="0.9" ry="1.1" fill="#5ab8ff" opacity="0.94"/>
<ellipse cx="701.3" cy="292.4" rx="0.9" ry="1.2" fill="#5ab8ff" opacity="0.70"/>
<ellipse cx="697.2" cy="289.7" rx="2.1" ry="0.7" fill="#7fd0ff" opacity="0.75"/>
<ellipse cx="688.2" cy="288.8" rx="2.1" ry="0.6" fill="#5ab8ff" opacity="0.90"/>
<ellipse cx="695.1" cy="293.4" rx="2.1" ry="0.7" fill="#3a9af8" opacity="0.77"/>
<ellipse cx="681.6" cy="294.5" rx="2.1" ry="0.7" fill="#5ab8ff" opacity="0.66"/>
<ellipse cx="693.6" cy="293.5" rx="2.2" ry="1.0" fill="#3a9af8" opacity="0.85"/>
<ellipse cx="690.7" cy="292.2" rx="2.4" ry="1.2" fill="#5ab8ff" opacity="0.87"/>
<ellipse cx="692.0" cy="287.6" rx="1.5" ry="1.1" fill="#7fd0ff" opacity="0.85"/>
<ellipse cx="678.6" cy="294.4" rx="1.3" ry="0.9" fill="#7fd0ff" opacity="0.91"/>
<ellipse cx="697.9" cy="289.2" rx="2.3" ry="1.3" fill="#7fd0ff" opacity="0.57"/>
<ellipse cx="705.6" cy="293.9" rx="1.5" ry="0.7" fill="#7fd0ff" opacity="0.72"/>
<ellipse cx="684.0" cy="289.3" rx="1.4" ry="0.6" fill="#3a9af8" opacity="0.71"/>
<ellipse cx="677.6" cy="294.6" rx="1.7" ry="0.7" fill="#3a9af8" opacity="0.85"/>
<ellipse cx="678.6" cy="295.1" rx="1.7" ry="1.1" fill="#5ab8ff" opacity="0.60"/>
<ellipse cx="673.4" cy="293.0" rx="1.6" ry="1.0" fill="#5ab8ff" opacity="0.61"/>
<ellipse cx="703.7" cy="295.0" rx="2.0" ry="1.2" fill="#5ab8ff" opacity="0.64"/>
<ellipse cx="671.2" cy="287.5" rx="1.0" ry="1.4" fill="#7fd0ff" opacity="0.72"/>
<ellipse cx="690.7" cy="294.7" rx="1.1" ry="1.0" fill="#7fd0ff" opacity="0.87"/>
<ellipse cx="705.2" cy="287.4" rx="2.6" ry="0.9" fill="#5ab8ff" opacity="0.52"/>
<ellipse cx="690.4" cy="289.5" rx="2.4" ry="1.1" fill="#5ab8ff" opacity="0.82"/>
<ellipse cx="673.4" cy="287.6" rx="2.5" ry="1.1" fill="#3a9af8" opacity="0.58"/>
<ellipse cx="701.0" cy="287.8" rx="1.2" ry="1.4" fill="#3a9af8" opacity="0.53"/>
<ellipse cx="690.2" cy="295.2" rx="2.2" ry="1.2" fill="#7fd0ff" opacity="0.84"/>
<ellipse cx="687.7" cy="286.9" rx="2.5" ry="1.1" fill="#3a9af8" opacity="0.77"/>
<ellipse cx="686.2" cy="293.6" rx="1.3" ry="0.7" fill="#3a9af8" opacity="0.67"/>
<ellipse cx="686.2" cy="289.3" rx="1.7" ry="1.3" fill="#5ab8ff" opacity="0.57"/>
<ellipse cx="700.4" cy="294.2" rx="2.4" ry="0.7" fill="#3a9af8" opacity="0.93"/>
<ellipse cx="703.8" cy="287.8" rx="1.7" ry="0.9" fill="#5ab8ff" opacity="0.71"/>
<ellipse cx="693.0" cy="287.0" rx="1.2" ry="1.0" fill="#5ab8ff" opacity="0.70"/>
<ellipse cx="675.5" cy="288.0" rx="1.4" ry="1.3" fill="#3a9af8" opacity="0.86"/>
<line x1="657.0" y1="291.0" x2="624.5" y2="285.5" stroke="#3d9cff" stroke-width="0.6" opacity="0.5"/>
<line x1="657.0" y1="291.0" x2="629.5" y2="296.5" stroke="#3d9cff" stroke-width="0.6" opacity="0.5"/>
<line x1="657.0" y1="291.0" x2="634.5" y2="285.5" stroke="#3d9cff" stroke-width="0.6" opacity="0.5"/>
<line x1="657.0" y1="291.0" x2="639.5" y2="296.5" stroke="#3d9cff" stroke-width="0.6" opacity="0.5"/>
<line x1="657.0" y1="291.0" x2="644.5" y2="285.5" stroke="#3d9cff" stroke-width="0.6" opacity="0.5"/>
<line x1="657.0" y1="291.0" x2="649.5" y2="296.5" stroke="#3d9cff" stroke-width="0.6" opacity="0.5"/>
<line x1="657.0" y1="291.0" x2="654.5" y2="285.5" stroke="#3d9cff" stroke-width="0.6" opacity="0.5"/>
<line x1="657.0" y1="291.0" x2="659.5" y2="296.5" stroke="#3d9cff" stroke-width="0.6" opacity="0.5"/>
<line x1="657.0" y1="291.0" x2="664.5" y2="285.5" stroke="#3d9cff" stroke-width="0.6" opacity="0.5"/>
<line x1="657.0" y1="291.0" x2="669.5" y2="296.5" stroke="#3d9cff" stroke-width="0.6" opacity="0.5"/>
<line x1="657.0" y1="291.0" x2="674.5" y2="285.5" stroke="#3d9cff" stroke-width="0.6" opacity="0.5"/>
<line x1="657.0" y1="291.0" x2="679.5" y2="296.5" stroke="#3d9cff" stroke-width="0.6" opacity="0.5"/>
<line x1="657.0" y1="291.0" x2="684.5" y2="285.5" stroke="#3d9cff" stroke-width="0.6" opacity="0.5"/>
<line x1="657.0" y1="291.0" x2="689.5" y2="296.5" stroke="#3d9cff" stroke-width="0.6" opacity="0.5"/></g>
<clipPath id="pc4"><rect x="603.4" y="470.8" width="106.60000000000001" height="12.4" rx="6.2"/></clipPath>
<rect x="601.1" y="468.5" width="111.2" height="17" rx="8.5" fill="#24166a" opacity="0.45"/>
<rect x="602.6" y="470" width="108.2" height="14" rx="7.0" fill="#24166a"/>
<rect x="603.4" y="470.8" width="106.60000000000001" height="12.4" rx="6.2" fill="url(#ledLit)"/>
<g clip-path="url(#pc4)"><ellipse cx="617.0" cy="479.6" rx="1.1" ry="1.4" fill="#1450d8" opacity="0.78"/>
<ellipse cx="636.0" cy="480.0" rx="1.1" ry="1.2" fill="#0a38c0" opacity="0.69"/>
<ellipse cx="617.0" cy="478.8" rx="1.4" ry="1.3" fill="#1450d8" opacity="0.87"/>
<ellipse cx="642.9" cy="480.2" rx="2.3" ry="0.9" fill="#1450d8" opacity="0.70"/>
<ellipse cx="636.1" cy="479.0" rx="1.6" ry="1.3" fill="#1450d8" opacity="0.62"/>
<ellipse cx="614.1" cy="475.5" rx="2.1" ry="0.8" fill="#1450d8" opacity="0.87"/>
<ellipse cx="639.7" cy="475.1" rx="1.3" ry="1.1" fill="#1a60e0" opacity="0.78"/>
<ellipse cx="614.5" cy="478.0" rx="2.3" ry="1.3" fill="#1a60e0" opacity="0.86"/>
<ellipse cx="619.7" cy="481.0" rx="1.1" ry="0.9" fill="#0a38c0" opacity="0.56"/>
<ellipse cx="631.6" cy="480.0" rx="1.0" ry="1.2" fill="#1a60e0" opacity="0.77"/>
<ellipse cx="607.8" cy="474.3" rx="1.1" ry="1.2" fill="#0a38c0" opacity="0.85"/>
<ellipse cx="639.0" cy="481.1" rx="2.4" ry="1.4" fill="#0a38c0" opacity="0.70"/>
<ellipse cx="608.5" cy="475.3" rx="2.5" ry="0.8" fill="#1450d8" opacity="0.58"/>
<ellipse cx="618.9" cy="474.4" rx="1.1" ry="1.2" fill="#1450d8" opacity="0.62"/>
<ellipse cx="637.8" cy="474.7" rx="2.1" ry="0.7" fill="#1450d8" opacity="0.82"/>
<ellipse cx="609.2" cy="479.7" rx="1.1" ry="0.7" fill="#1450d8" opacity="0.74"/>
<ellipse cx="615.8" cy="480.3" rx="2.2" ry="0.7" fill="#1450d8" opacity="0.92"/>
<ellipse cx="621.6" cy="474.0" rx="1.6" ry="1.4" fill="#0a38c0" opacity="0.65"/>
<ellipse cx="616.3" cy="479.5" rx="2.3" ry="1.3" fill="#1450d8" opacity="0.65"/>
<ellipse cx="612.9" cy="479.2" rx="2.0" ry="0.6" fill="#1450d8" opacity="0.74"/>
<ellipse cx="610.1" cy="474.0" rx="1.3" ry="0.9" fill="#0a38c0" opacity="0.85"/>
<ellipse cx="641.4" cy="474.7" rx="1.0" ry="1.1" fill="#0a38c0" opacity="0.91"/>
<ellipse cx="630.1" cy="474.7" rx="2.0" ry="0.8" fill="#1a60e0" opacity="0.51"/>
<ellipse cx="616.1" cy="478.4" rx="2.0" ry="0.7" fill="#1a60e0" opacity="0.93"/>
<ellipse cx="640.9" cy="475.7" rx="1.6" ry="1.0" fill="#0a38c0" opacity="0.91"/>
<ellipse cx="628.5" cy="480.6" rx="2.3" ry="1.1" fill="#1a60e0" opacity="0.60"/>
<ellipse cx="621.6" cy="479.3" rx="1.9" ry="1.0" fill="#0a38c0" opacity="0.51"/>
<ellipse cx="619.7" cy="479.9" rx="0.9" ry="0.9" fill="#1450d8" opacity="0.65"/>
<ellipse cx="619.4" cy="473.4" rx="1.4" ry="1.2" fill="#1450d8" opacity="0.75"/>
<ellipse cx="629.5" cy="480.3" rx="2.3" ry="0.9" fill="#1450d8" opacity="0.73"/>
<ellipse cx="643.3" cy="481.3" rx="1.5" ry="0.9" fill="#1a60e0" opacity="0.59"/>
<ellipse cx="629.7" cy="473.5" rx="2.2" ry="1.2" fill="#0a38c0" opacity="0.62"/>
<ellipse cx="630.4" cy="480.5" rx="2.4" ry="0.6" fill="#1a60e0" opacity="0.76"/>
<ellipse cx="625.6" cy="480.0" rx="2.3" ry="0.8" fill="#1a60e0" opacity="0.77"/>
<ellipse cx="621.3" cy="479.6" rx="1.4" ry="0.9" fill="#1a60e0" opacity="0.77"/>
<ellipse cx="631.0" cy="480.6" rx="1.5" ry="0.8" fill="#1a60e0" opacity="0.64"/>
<ellipse cx="612.8" cy="474.5" rx="2.3" ry="0.9" fill="#1a60e0" opacity="0.88"/>
<ellipse cx="642.2" cy="473.2" rx="0.9" ry="0.8" fill="#0a38c0" opacity="0.63"/>
<ellipse cx="627.0" cy="480.2" rx="1.8" ry="1.0" fill="#1a60e0" opacity="0.69"/>
<ellipse cx="624.4" cy="480.4" rx="2.5" ry="1.1" fill="#1a60e0" opacity="0.60"/>
<ellipse cx="684.5" cy="474.3" rx="2.4" ry="1.4" fill="#0a38c0" opacity="0.68"/>
<ellipse cx="697.4" cy="475.6" rx="1.2" ry="0.9" fill="#1450d8" opacity="0.87"/>
<ellipse cx="688.2" cy="481.1" rx="2.3" ry="1.4" fill="#0a38c0" opacity="0.78"/>
<ellipse cx="688.6" cy="475.4" rx="1.6" ry="0.6" fill="#1a60e0" opacity="0.77"/>
<ellipse cx="682.4" cy="476.0" rx="2.1" ry="0.6" fill="#1450d8" opacity="0.64"/>
<ellipse cx="694.6" cy="472.5" rx="1.9" ry="1.1" fill="#1450d8" opacity="0.58"/>
<ellipse cx="697.5" cy="474.5" rx="1.9" ry="0.9" fill="#1450d8" opacity="0.57"/>
<ellipse cx="688.4" cy="474.3" rx="1.2" ry="1.0" fill="#0a38c0" opacity="0.78"/>
<ellipse cx="698.8" cy="478.0" rx="1.1" ry="0.8" fill="#0a38c0" opacity="0.58"/>
<ellipse cx="679.3" cy="472.8" rx="1.5" ry="1.0" fill="#0a38c0" opacity="0.51"/>
<ellipse cx="677.6" cy="473.9" rx="1.6" ry="1.1" fill="#1450d8" opacity="0.60"/>
<ellipse cx="675.4" cy="474.6" rx="2.4" ry="1.3" fill="#0a38c0" opacity="0.69"/>
<ellipse cx="678.8" cy="475.6" rx="1.3" ry="0.9" fill="#1a60e0" opacity="0.76"/>
<ellipse cx="684.6" cy="473.9" rx="2.2" ry="0.8" fill="#1450d8" opacity="0.58"/>
<ellipse cx="683.4" cy="481.1" rx="1.9" ry="0.7" fill="#1a60e0" opacity="0.89"/>
<ellipse cx="681.8" cy="481.4" rx="2.3" ry="0.9" fill="#1450d8" opacity="0.67"/>
<ellipse cx="686.6" cy="479.5" rx="2.0" ry="0.9" fill="#1450d8" opacity="0.61"/>
<ellipse cx="674.4" cy="473.2" rx="1.8" ry="1.0" fill="#1450d8" opacity="0.57"/>
<ellipse cx="682.4" cy="475.0" rx="1.4" ry="1.0" fill="#1450d8" opacity="0.60"/>
<ellipse cx="686.0" cy="480.5" rx="1.9" ry="1.0" fill="#0a38c0" opacity="0.74"/>
<ellipse cx="684.3" cy="474.3" rx="2.1" ry="0.7" fill="#0a38c0" opacity="0.83"/>
<ellipse cx="697.3" cy="472.6" rx="1.4" ry="0.9" fill="#1450d8" opacity="0.81"/>
<ellipse cx="697.7" cy="473.3" rx="1.0" ry="1.3" fill="#1a60e0" opacity="0.84"/>
<ellipse cx="676.6" cy="478.3" rx="1.1" ry="1.2" fill="#0a38c0" opacity="0.66"/>
<ellipse cx="700.2" cy="474.1" rx="2.5" ry="0.7" fill="#0a38c0" opacity="0.81"/>
<ellipse cx="693.7" cy="479.4" rx="1.3" ry="1.3" fill="#0a38c0" opacity="0.91"/>
<ellipse cx="673.2" cy="473.5" rx="2.1" ry="0.6" fill="#1450d8" opacity="0.77"/>
<ellipse cx="685.2" cy="475.1" rx="1.8" ry="1.1" fill="#1450d8" opacity="0.75"/>
<ellipse cx="677.9" cy="479.8" rx="2.0" ry="1.1" fill="#1450d8" opacity="0.55"/>
<ellipse cx="697.3" cy="474.8" rx="2.6" ry="1.1" fill="#1450d8" opacity="0.86"/>
<ellipse cx="677.3" cy="475.7" rx="1.6" ry="1.2" fill="#1a60e0" opacity="0.78"/>
<ellipse cx="677.7" cy="479.2" rx="1.7" ry="0.9" fill="#1a60e0" opacity="0.83"/>
<ellipse cx="699.7" cy="474.7" rx="2.1" ry="0.8" fill="#1a60e0" opacity="0.73"/>
<ellipse cx="703.2" cy="472.9" rx="2.5" ry="1.3" fill="#1a60e0" opacity="0.62"/>
<ellipse cx="689.4" cy="480.2" rx="1.3" ry="0.6" fill="#0a38c0" opacity="0.66"/>
<ellipse cx="673.0" cy="478.5" rx="2.0" ry="0.8" fill="#1450d8" opacity="0.50"/>
<ellipse cx="694.7" cy="480.2" rx="1.1" ry="1.2" fill="#1a60e0" opacity="0.75"/>
<ellipse cx="681.7" cy="475.4" rx="2.1" ry="0.7" fill="#0a38c0" opacity="0.88"/>
<ellipse cx="684.4" cy="473.2" rx="1.5" ry="0.8" fill="#1450d8" opacity="0.90"/>
<ellipse cx="680.7" cy="472.9" rx="1.2" ry="1.0" fill="#1a60e0" opacity="0.66"/>
<line x1="656.7" y1="477.0" x2="624.2" y2="471.5" stroke="#9aeeff" stroke-width="0.6" opacity="0.5"/>
<line x1="656.7" y1="477.0" x2="629.2" y2="482.5" stroke="#9aeeff" stroke-width="0.6" opacity="0.5"/>
<line x1="656.7" y1="477.0" x2="634.2" y2="471.5" stroke="#9aeeff" stroke-width="0.6" opacity="0.5"/>
<line x1="656.7" y1="477.0" x2="639.2" y2="482.5" stroke="#9aeeff" stroke-width="0.6" opacity="0.5"/>
<line x1="656.7" y1="477.0" x2="644.2" y2="471.5" stroke="#9aeeff" stroke-width="0.6" opacity="0.5"/>
<line x1="656.7" y1="477.0" x2="649.2" y2="482.5" stroke="#9aeeff" stroke-width="0.6" opacity="0.5"/>
<line x1="656.7" y1="477.0" x2="654.2" y2="471.5" stroke="#9aeeff" stroke-width="0.6" opacity="0.5"/>
<line x1="656.7" y1="477.0" x2="659.2" y2="482.5" stroke="#9aeeff" stroke-width="0.6" opacity="0.5"/>
<line x1="656.7" y1="477.0" x2="664.2" y2="471.5" stroke="#9aeeff" stroke-width="0.6" opacity="0.5"/>
<line x1="656.7" y1="477.0" x2="669.2" y2="482.5" stroke="#9aeeff" stroke-width="0.6" opacity="0.5"/>
<line x1="656.7" y1="477.0" x2="674.2" y2="471.5" stroke="#9aeeff" stroke-width="0.6" opacity="0.5"/>
<line x1="656.7" y1="477.0" x2="679.2" y2="482.5" stroke="#9aeeff" stroke-width="0.6" opacity="0.5"/>
<line x1="656.7" y1="477.0" x2="684.2" y2="471.5" stroke="#9aeeff" stroke-width="0.6" opacity="0.5"/>
<line x1="656.7" y1="477.0" x2="689.2" y2="482.5" stroke="#9aeeff" stroke-width="0.6" opacity="0.5"/></g><circle cx="656.7" cy="477.0" r="5" fill="url(#ledDot)"/>

<!-- schematic -->
<g font-size="17.5" font-weight="bold" fill="#111" stroke="#111" stroke-width="0.8" stroke-linejoin="round">
<text x="282" y="213.5" textLength="113.5" lengthAdjust="spacing">ELECTRICAL</text>
<text x="403.2" y="213.5" textLength="108" lengthAdjust="spacing">SCHEMATIC</text>
</g>
<g fill="none" stroke="#0a0a0a" stroke-width="4.5">
  <path d="M329 337 L316 337 Q310 337 310 331 L310 260.5 Q310 254.5 316 254.5 L342 254.5"/>
  <path d="M380 254.5 L422.5 254.5 L422.5 284"/>
  <path d="M423 285.2 L479.5 285.2 L479.5 598 Q479.5 604.2 473.5 604.2 L380 604.2"/>
  <path d="M342 604.2 L316 604.2 Q310 604.2 310 598.2 L310 563.3 Q310 557.3 316 557.3 L329 557.3"/>
</g>
<g fill="#fff" stroke="#0a0a0a" stroke-width="2.2">
  <circle cx="361" cy="254" r="19"/>
  <circle cx="361" cy="603.8" r="19"/>
</g>
<g stroke="#0a0a0a" stroke-width="2.2" fill="none">
  <path d="M347.6 240.6 L374.4 267.4 M374.4 240.6 L347.6 267.4"/>
  <path d="M347.6 590.4 L374.4 617.2 M374.4 590.4 L347.6 617.2"/>
  <path d="M357.7 346 L329 446 L357.7 548 M455.8 345.7 L423 446 L455.5 548"/>
</g>
<g fill="#0a0a0a">
  <circle cx="423" cy="284" r="9.7"/>
  <circle cx="328.8" cy="336" r="9.9"/>
  <circle cx="423.2" cy="334.8" r="9.9"/>
  <circle cx="328.6" cy="445.8" r="9.9"/>
  <circle cx="423" cy="446.2" r="9.9"/>
  <circle cx="329.2" cy="555.5" r="9.9"/>
  <circle cx="423" cy="555.4" r="9.9"/>
  <path d="M328.5 372.2 L316.5 393.2 L341.2 393.2 Z"/>
  <path d="M426.7 372.4 L414.2 393.3 L439.3 393.3 Z"/>
  <path d="M319.5 505.2 L343.5 509.7 L327 528.5 Z"/>
  <path d="M417.5 505 L441.25 510 L425 528 Z"/>
</g>
<g font-size="21" fill="#111" stroke="#111" stroke-width="0.5">
  <text x="340" y="330.3">1</text>
  <text x="436" y="330.3">4</text>
  <text x="434.8" y="276.2" textLength="34.4" lengthAdjust="spacingAndGlyphs">7(-)</text>
  <text x="339.5" y="452.8" textLength="39.5" lengthAdjust="spacingAndGlyphs">2(+)</text>
  <text x="435.5" y="454" textLength="39.5" lengthAdjust="spacingAndGlyphs">5(+)</text>
  <text x="340.5" y="573.8">3</text>
  <text x="437" y="574">6</text>
</g>

<g font-size="23" fill="#141414" stroke="#141414" stroke-width="0.6">
  <text x="32" y="652" textLength="226" lengthAdjust="spacingAndGlyphs">Upper light lit when</text>
  <text x="50" y="675.2" textLength="196" lengthAdjust="spacingAndGlyphs">press upper part.</text>
  <text x="542.5" y="652" textLength="227" lengthAdjust="spacingAndGlyphs">Lower light lit when</text>
  <text x="562" y="675.2" textLength="194" lengthAdjust="spacingAndGlyphs">press lower part.</text>
</g>
</svg>
</body></html>
